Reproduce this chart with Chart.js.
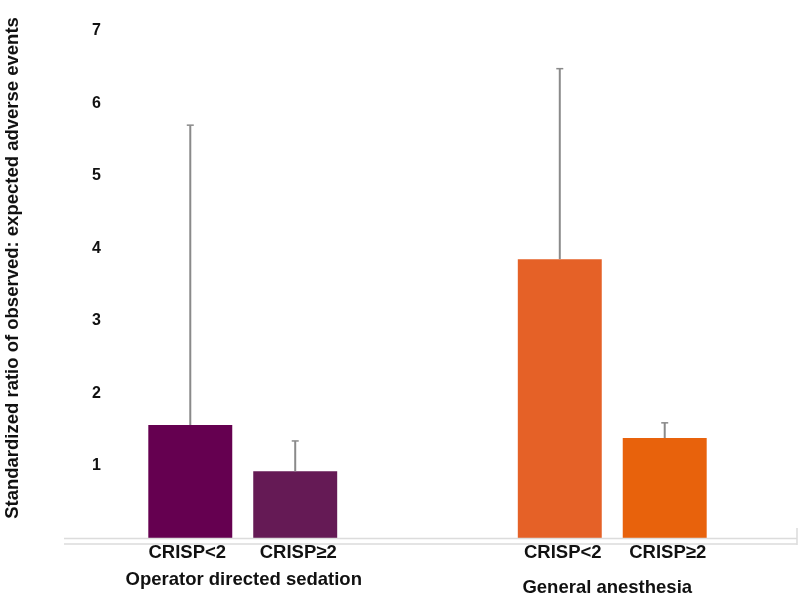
<!DOCTYPE html>
<html lang="en">
<head>
  <meta charset="UTF-8" />
  <title>Standardized ratio of observed: expected adverse events</title>
  <script src="https://cdn.jsdelivr.net/npm/chart.js"></script>
  <style>
    * { margin: 0; padding: 0; box-sizing: border-box; }
    body { background: #ffffff; width: 800px; height: 595px; overflow: hidden; }
    .chart-box { position: relative; width: 800px; height: 595px; }
  </style>
</head>
<body>
  <div class="chart-box">
    <canvas id="barChart"></canvas>
  </div>

  <script>
    // data
    const groups = ['Operator directed sedation', 'General anesthesia'];
    const subLabels = ['CRISP<2', 'CRISP\u22652'];
    const crispLow = [1.56, 3.85];
    const crispLowUpper = [5.70, 6.48];
    const crispHigh = [0.92, 1.38];
    const crispHighUpper = [1.34, 1.59];
    const yTicks = [1, 2, 3, 4, 5, 6, 7];
    const yTitle = 'Standardized ratio of observed: expected adverse events';

    const upperLimits = [crispLowUpper, crispHighUpper];
    const FONT = "'Liberation Sans', Arial, sans-serif";

    // error bars (upper whisker only)
    const errorBars = {
      id: 'errorBars',
      afterDatasetsDraw(chart) {
        const ctx = chart.ctx;
        const y = chart.scales.y;
        ctx.save();
        ctx.strokeStyle = '#8a8a8a';
        chart.data.datasets.forEach((ds, di) => {
          const meta = chart.getDatasetMeta(di);
          meta.data.forEach((bar, i) => {
            const top = y.getPixelForValue(upperLimits[di][i]);
            ctx.lineWidth = 2;
            ctx.beginPath();
            ctx.moveTo(bar.x, bar.y);
            ctx.lineTo(bar.x, top);
            ctx.stroke();
            ctx.lineWidth = 1.5;
            ctx.beginPath();
            ctx.moveTo(bar.x - 3.5, top);
            ctx.lineTo(bar.x + 3.5, top);
            ctx.stroke();
          });
        });
        ctx.restore();
      }
    };

    // baseline lines, two-level x labels, y title
    const xLabels = {
      id: 'xLabels',
      afterDraw(chart) {
        const ctx = chart.ctx;
        const area = chart.chartArea;
        const x = chart.scales.x;
        const lineLeft = area.left + 6;
        ctx.save();
        ctx.strokeStyle = '#dcdcdc';
        ctx.lineWidth = 1.5;
        ctx.beginPath();
        ctx.moveTo(lineLeft, area.bottom + 0.5);
        ctx.lineTo(area.right, area.bottom + 0.5);
        ctx.moveTo(lineLeft, area.bottom + 6);
        ctx.lineTo(area.right, area.bottom + 6);
        ctx.moveTo(area.right, area.bottom - 10);
        ctx.lineTo(area.right, area.bottom + 7);
        ctx.stroke();

        ctx.fillStyle = '#111';
        ctx.textAlign = 'center';
        ctx.textBaseline = 'middle';
        ctx.font = 'bold 18.5px ' + FONT;
        chart.data.datasets.forEach((ds, di) => {
          chart.getDatasetMeta(di).data.forEach((bar, i) => {
            const shift = (di === 0 && i === 0) ? -3 : 3;
            ctx.fillText(subLabels[di], bar.x + shift, area.bottom + 15);
          });
        });
        const groupY = [area.bottom + 42, area.bottom + 50];
        groups.forEach((g, i) => {
          ctx.fillText(g, x.getPixelForValue(i) + (i === 0 ? 1 : -5), groupY[i]);
        });

        // y axis title
        ctx.translate(13, 268);
        ctx.rotate(-Math.PI / 2);
        ctx.font = 'bold 18.5px ' + FONT;
        ctx.fillText(yTitle, 0, 0);
        ctx.restore();
      }
    };

    new Chart(document.getElementById('barChart'), {
      type: 'bar',
      data: {
        labels: groups,
        datasets: [
          {
            label: subLabels[0],
            data: crispLow,
            backgroundColor: ['#650050', '#e56127']
          },
          {
            label: subLabels[1],
            data: crispHigh,
            backgroundColor: ['#651a55', '#e8620c']
          }
        ]
      },
      options: {
        responsive: true,
        maintainAspectRatio: false,
        animation: false,
        layout: { padding: { top: 31, right: 3, bottom: 57, left: 0 } },
        categoryPercentage: 0.568,
        barPercentage: 0.8,
        plugins: {
          legend: { display: false },
          tooltip: { enabled: false }
        },
        scales: {
          x: { display: false },
          y: {
            min: 0,
            max: 7,
            afterBuildTicks: scale => {
              scale.ticks = yTicks.map(v => ({ value: v }));
            },
            afterFit: scale => {
              scale.width = 58;
              scale.paddingTop = 0;
              scale.paddingBottom = 0;
            },
            grid: { display: false },
            border: { display: false },
            ticks: {
              mirror: true,
              padding: 34,
              color: '#111',
              font: { family: FONT, size: 16, weight: 'bold' }
            }
          }
        }
      },
      plugins: [errorBars, xLabels]
    });
  </script>
</body>
</html>
